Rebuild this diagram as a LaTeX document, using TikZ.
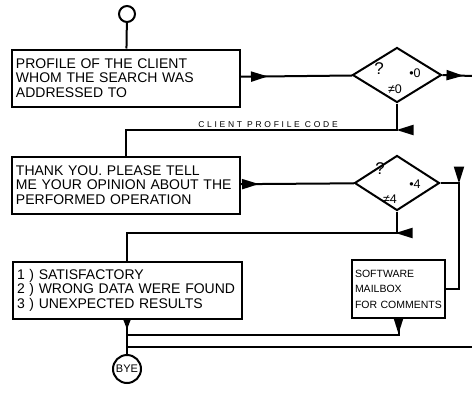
\documentclass[tikz,border=0pt]{standalone}
\usepackage{fontspec}
\setmainfont{Liberation Sans}
\usetikzlibrary{shapes.geometric,arrows.meta,decorations.markings}

\tikzset{
  >={Triangle[length=17pt,width=10pt]},
  flowline/.style={line width=2pt},
  flowbox/.style={draw, line width=2pt, minimum width=228pt, minimum height=57pt,
    text width=220pt, inner xsep=4pt, align=left, font=\fontsize{14}{14.5}\selectfont},
  notebox/.style={draw, line width=2pt, minimum width=93pt, minimum height=58pt,
    text width=87pt, inner xsep=3pt, align=left, font=\fontsize{10.5}{15.5}\selectfont},
  decision/.style={diamond, draw, line width=2pt, inner sep=0pt,
    minimum width=89pt, minimum height=55pt},
  terminal/.style={circle, draw, line width=2pt, inner sep=0pt},
  mark label/.style={inner sep=0pt, font=\fontsize{12.5}{12.5}\selectfont},
  arrowat/.style={postaction={decorate}, decoration={markings,
    mark=at position #1 with {\arrow{>}}}},
  smallarrowat/.style={postaction={decorate}, decoration={markings,
    mark=at position #1 with {\arrow{Triangle[length=10pt,width=7pt]}}}},
}

\begin{document}
\begin{tikzpicture}[x=1pt,y=-1pt]
\useasboundingbox (0,0) rectangle (472,397);

\node[terminal, minimum size=16pt] (start) at (127,14) {};
\node[flowbox] (profile) at (126,78) {PROFILE OF THE CLIENT\\WHOM THE SEARCH WAS\\ADDRESSED TO};
\node[decision] (zero) at (397,75) {};
\node[mark label, font=\fontsize{17}{17}\selectfont] (zeroq) at (379,69) {?};
\node[mark label] (zeroeq) at (415,73) {•0};
\node[mark label] (zerone) at (395,89) {≠0};

\node[flowbox] (opinion) at (126,185) {THANK YOU. PLEASE TELL\\ME YOUR OPINION ABOUT THE\\PERFORMED OPERATION};
\node[decision, minimum width=85pt] (four) at (397,183) {};
\node[mark label, font=\fontsize{17}{17}\selectfont] (fourq) at (380,169) {?};
\node[mark label] (foureq) at (415,184) {•4};
\node[mark label] (fourne) at (390,199) {≠4};

\node[flowbox, minimum width=229pt] (choices) at (127,290) {1 ) SATISFACTORY\\2 ) WRONG DATA WERE FOUND\\3 ) UNEXPECTED RESULTS};
\node[notebox] (comments) at (398.5,289) {SOFTWARE\\MAILBOX\\FOR COMMENTS};
\node[terminal, minimum size=28pt, font=\fontsize{11}{11}\selectfont] (bye) at (127,369) {BYE};

\coordinate (zeroexit) at (472,76);
\coordinate (codebend) at (397,130);
\coordinate (fourbend) at (459,183);
\coordinate (choicebend) at (397,233);
\coordinate (mailjoin) at (127,335);
\coordinate (backin) at (472,347);
\coordinate (backjoin) at (127,347);

\draw[flowline] (start) -- (profile);
\draw[flowline, arrowat=27pt] (profile) -- (zero);
\draw[flowline, arrowat=21pt] (zero.east) -- (zeroexit);
\draw[flowline, arrowat=27pt] (zero.south) -- (codebend) -| (opinion.north);
\node[anchor=south, inner sep=1.5pt, font=\fontsize{8.5}{8.5}\selectfont\addfontfeature{LetterSpace=32}] (codelbl) at (268,129) {CLIENT PROFILE CODE};

\draw[flowline, arrowat=18pt] (opinion) -- (four);
\draw[flowline, arrowat=19pt] (four.east) -- (fourbend) |- (comments.east);
\draw[flowline, arrowat=23pt] (four.south) -- (choicebend) -| (choices.north);

\draw[flowline, arrowat=15pt] (comments.south) |- (mailjoin);
\draw[flowline, smallarrowat=10pt] (choices.south) -- (bye.north);
\draw[flowline] (backin) -- (backjoin);
\end{tikzpicture}
\end{document}
